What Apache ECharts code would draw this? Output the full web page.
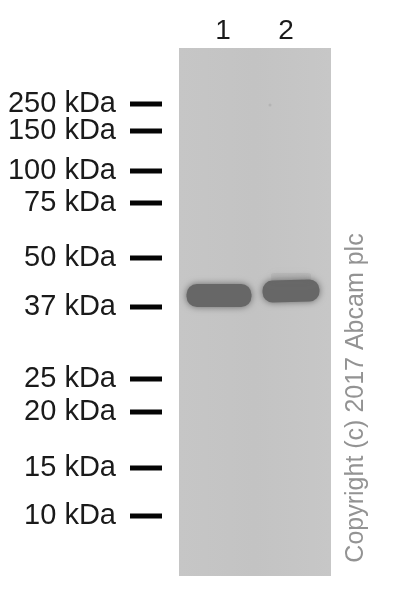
<!DOCTYPE html>
<html><head><meta charset="utf-8">
<style>html,body{margin:0;padding:0;background:#fff}#c{width:402px;height:600px}</style>
<script src="https://cdn.jsdelivr.net/npm/echarts@6/dist/echarts.min.js"></script></head>
<body><div id="c"></div>
<script>
const ladderLabels = ['250 kDa','150 kDa','100 kDa','75 kDa','50 kDa','37 kDa','25 kDa','20 kDa','15 kDa','10 kDa'];
const ladderMigration = [56,83,123,155,210,259,331,364,420,468];
const laneLabels = ['1','2'];
const laneLabelPos = [44,107];
const bandStart = [7.5,83.5,92];
const bandEnd = [72.5,140.5,132];
const bandMigration = [247.5,243,229];
const bandThickness = [23,22,8];
const bandTilt = [0,0.03,0];
const bandOpacity = [1,1,0.09];
const blotSpeckPos = [[91,57]];

const chart = echarts.init(document.getElementById('c'), null, {renderer:'canvas'});
const blotFill = new echarts.graphic.LinearGradient(0,0,1,0,[
  {offset:0,color:'#c6c6c6'},{offset:0.5,color:'#c3c3c3'},{offset:1,color:'#c7c7c7'}]);
const hiddenAxis = (extra) => Object.assign({show:false}, extra);
chart.setOption({
  animation:false,
  backgroundColor:'#ffffff',
  grid:[
    {left:179,top:48,width:152,height:528,backgroundColor:blotFill,show:true,borderWidth:0},
    {left:130,top:48,width:32,height:528,show:false}
  ],
  xAxis:[
    hiddenAxis({type:'value',gridIndex:0,min:0,max:152}),
    hiddenAxis({type:'value',gridIndex:1,min:0,max:1})
  ],
  yAxis:[
    hiddenAxis({type:'value',gridIndex:0,min:0,max:528,inverse:true}),
    hiddenAxis({type:'value',gridIndex:1,min:0,max:528,inverse:true})
  ],
  series:[
    {type:'scatter',xAxisIndex:1,yAxisIndex:1,symbol:'rect',symbolSize:[32,5],clip:false,
     itemStyle:{color:'#050505',opacity:1},
     label:{show:true,position:'left',distance:14,color:'#1a1a1a',fontFamily:'Liberation Sans',fontSize:29,
       formatter:p=>ladderLabels[p.dataIndex]},
     data:ladderMigration.map(m=>[0.5,m])},
    {type:'scatter',xAxisIndex:0,yAxisIndex:0,symbolSize:0,clip:false,
     itemStyle:{opacity:1},
     label:{show:true,position:'top',distance:3,color:'#1a1a1a',fontFamily:'Liberation Sans',fontSize:28,
       formatter:p=>laneLabels[p.dataIndex]},
     data:laneLabelPos.map(x=>[x,0])},
    {type:'scatter',xAxisIndex:0,yAxisIndex:0,symbolSize:3,itemStyle:{color:'#b4b4b4',opacity:1},data:blotSpeckPos},
    {type:'custom',xAxisIndex:0,yAxisIndex:0,clip:false,
     data:bandStart.map((s,i)=>[s,bandEnd[i],bandMigration[i],bandThickness[i],bandTilt[i],bandOpacity[i]]),
     encode:{x:[0,1],y:2},
     renderItem:(params,api)=>{
       const a=api.coord([api.value(0),api.value(2)]);
       const b=api.coord([api.value(1),api.value(2)]);
       const th=api.value(3);
       const cx=(a[0]+b[0])/2, cy=a[1];
       return {type:'rect',
         x:cx,y:cy,rotation:api.value(4),
         shape:{x:a[0]-cx,y:-th/2,width:b[0]-a[0],height:th,r:th/2-1},
         style:{fill:'#676767',opacity:api.value(5),shadowBlur:7,shadowColor:'#676767'}};
     }}
  ],
  graphic:[
    {type:'text',x:356,y:398,rotation:Math.PI/2,
     style:{text:'Copyright (c) 2017 Abcam plc',fill:'#939393',font:'25px "Liberation Sans"',
       align:'center',verticalAlign:'middle'}}
  ]
});
</script></body></html>
